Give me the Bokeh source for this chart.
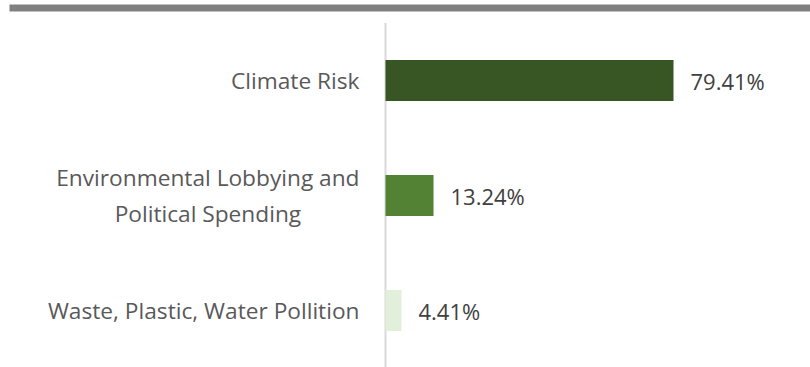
from bokeh.plotting import figure
from bokeh.models import ColumnDataSource, Range1d, BoxAnnotation
from bokeh.core.properties import value
from bokeh.embed import file_html
from bokeh.resources import INLINE

# Data (top to bottom as shown)
categories = ["Climate Risk", "Environmental Lobbying and Political Spending", "Waste, Plastic, Water Pollition"]
display_labels = ["Climate Risk", "Environmental Lobbying and\nPolitical Spending", "Waste, Plastic, Water Pollition"]
shares = [79.41, 13.24, 4.41]
bar_colors = ["#375623", "#548235", "#E2EFDA"]

n = len(categories)
ypos = [n - 1 - i for i in range(n)]  # top category highest

src = ColumnDataSource(dict(
    cat=categories,
    y=ypos,
    label=display_labels,
    share=shares,
    share_text=[f"{v:.2f}%" for v in shares],
    color=bar_colors,
    zero=[0] * n,
))

W, H = 810, 367
axis_px = 385          # pixel position of the value axis (0 %)
px_per_unit = 288 / 79.41
row_px = 115
first_row_px = 80

p = figure(
    width=W, height=H,
    x_range=Range1d(-axis_px / px_per_unit, (W - axis_px) / px_per_unit),
    y_range=Range1d((n - 1) - (H - first_row_px) / row_px, (n - 1) + first_row_px / row_px),
    output_backend="svg", toolbar_location=None,
    min_border=0,
)
p.background_fill_color = "white"
p.border_fill_color = "white"
p.outline_line_color = None
p.xgrid.visible = False
p.ygrid.visible = False
p.xaxis.visible = False
p.yaxis.visible = False

# category axis line
p.segment(x0=0, y0=-0.5, x1=0, y1=n - 0.5, line_color="#D9D9D9", line_width=2)

p.hbar(y="y", left=0, right="share", height=0.357, color="color", line_color=None, source=src)

p.text(x="zero", y="y", text="label", source=src, x_offset=-26,
       anchor="center_right", text_align="center", text_baseline="middle",
       text_font=value("Open Sans"), text_font_size="22.7px", text_color="#595959",
       text_line_height=1.15)

p.text(x="share", y="y", text="share_text", source=src, x_offset=17,
       text_align="left", text_baseline="middle",
       text_font=value("Open Sans"), text_font_size="22px", text_color="#404040")

top_band = BoxAnnotation(left=9, right=W, top=4, bottom=11,
                         left_units="canvas", right_units="canvas",
                         top_units="canvas", bottom_units="canvas",
                         fill_color="#808080", fill_alpha=1.0, line_color=None)
p.add_layout(top_band)

open("out.html", "w").write(file_html(p, INLINE))
